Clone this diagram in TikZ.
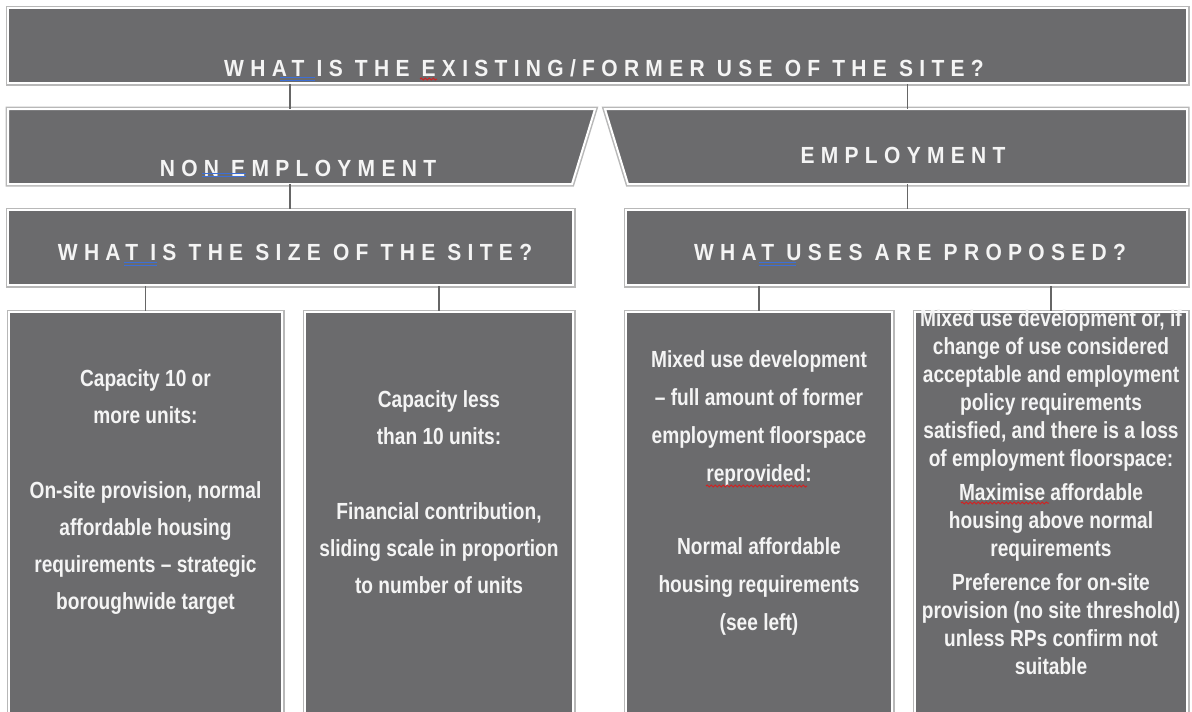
\documentclass[tikz,border=0pt]{standalone}
\usepackage{fontspec}
\setmainfont{Liberation Sans}[FakeStretch=0.82]
\newfontfamily\headfont{Liberation Sans}[FakeStretch=0.9, LetterSpace=27]
\usetikzlibrary{positioning,decorations.pathmorphing}

\definecolor{boxgray}{HTML}{6B6B6D}
\definecolor{rimgray}{HTML}{B8B8B8}
\definecolor{linkgray}{HTML}{666666}
\definecolor{inkwhite}{HTML}{F4F4F4}
\definecolor{checkblue}{HTML}{3D6FD6}
\definecolor{checkred}{HTML}{D42020}

\newlength\unitpx
\setlength\unitpx{0.75pt}

\begin{document}
\begin{tikzpicture}[x=0.75pt, y=-0.75pt]
\tikzset{box/.style = {fill=boxgray, draw=white, line width=2\unitpx, preaction={draw=rimgray, line width=5\unitpx}}}
\tikzset{cell/.style 2 args = {box, minimum width=#1\unitpx, minimum height=#2\unitpx, inner sep=0pt}}
\tikzset{area/.style 2 args = {minimum width=#1\unitpx, minimum height=#2\unitpx, inner sep=0pt, outer sep=0pt}}
\tikzset{link/.style = {draw=linkgray, line width=1.5\unitpx}}
\tikzset{head/.style = {text=inkwhite, inner sep=0pt, font=\headfont\bfseries\fontsize{17.5}{20}\selectfont}}
\tikzset{body/.style = {text=inkwhite, inner sep=0pt, align=center}}
\tikzset{grammar/.style = {checkblue, line width=1\unitpx}}
\tikzset{spelling/.style = {checkred, line width=1\unitpx, decorate, decoration={snake, amplitude=1\unitpx, segment length=4\unitpx}}}
  \useasboundingbox (0,0) rectangle (1192,711);
  \clip (0,0) rectangle (1192,711);

  % question boxes
  \node[cell={1179}{75}] (site) at (597.5,45.5) {};
  \node[area={564}{75}] (nonemp) at (290,146.5) {};
  \node[area={559}{75}] (emp) at (907.5,146.5) {};
  \path[box] (nonemp.north west) -- ([xshift=23\unitpx]nonemp.north east)
     -- (nonemp.south east) -- (nonemp.south west) -- cycle;
  \path[box] ([xshift=-23\unitpx]emp.north west) -- (emp.north east)
     -- (emp.south east) -- (emp.south west) -- cycle;
  \node[cell={565}{75}] (size) at (290.5,247.5) {};
  \node[cell={561}{75}] (uses) at (906.5,247.5) {};

  % answer boxes, cut off at the bottom
  \node[cell={273}{450}] (small) at (145.5,537) {};
  \node[cell={268}{450}] (large) at (439,537) {};
  \node[cell={266}{450}] (mixed) at (759,537) {};
  \node[cell={272}{450}] (loss) at (1051,537) {};

  % connectors
  \draw[link] (site.south -| nonemp.north) -- (nonemp.north);
  \draw[link] (site.south -| emp.north) -- (emp.north);
  \draw[link] (nonemp.south) -- (size.north -| nonemp.south);
  \draw[link] (emp.south) -- (uses.north -| emp.south);
  \draw[link] (size.south -| small.north) -- (small.north);
  \draw[link] (size.south -| large.north) -- (large.north);
  \draw[link] (uses.south -| mixed.north) -- (mixed.north);
  \draw[link] (uses.south -| loss.north) -- (loss.north);

  % headings
  \node[head] (siteQ) at (604,68) {WHAT IS THE EXISTING/FORMER USE OF THE SITE?};
  \node[head] (nonempT) at (298,168) {NON EMPLOYMENT};
  \node[head] (empT) at (903,155) {EMPLOYMENT};
  \node[head] (sizeQ) at (295,252) {WHAT IS THE SIZE OF THE SITE?};
  \node[head] (usesQ) at (910,252) {WHAT USES ARE PROPOSED?};

  % answers
  \node[body, font=\bfseries\fontsize{17.5}{27.75}\selectfont] (smallT) at (145.5,492)
    {Capacity 10 or\\ more units:\\[28.5pt] On-site provision, normal\\ affordable housing\\
     requirements -- strategic\\ boroughwide target};
  \node[body, font=\bfseries\fontsize{17.5}{27.75}\selectfont] (largeT) at (439,492)
    {Capacity less\\ than 10 units:\\[28.5pt] Financial contribution,\\
     sliding scale in proportion\\ to number of units};
  \node[body, font=\bfseries\fontsize{17.5}{28.5}\selectfont] (mixedT) at (759,493)
    {Mixed use development\\ -- full amount of former\\ employment floorspace\\
     reprovided:\\[26pt] Normal affordable\\ housing requirements\\ (see left)};
  \node[body, font=\bfseries\fontsize{17.5}{21}\selectfont] (lossT) at (1051,492)
    {Mixed use development or, if\\ change of use considered\\ acceptable and employment\\
     policy requirements\\ satisfied, and there is a loss\\ of employment floorspace:\\[4.5pt]
     Maximise affordable\\ housing above normal\\ requirements\\[4.5pt]
     Preference for on-site\\ provision (no site threshold)\\ unless RPs confirm  not\\ suitable};

  % proofing marks
  \draw[grammar] (280,77) -- (315,77) (280,80) -- (315,80);
  \draw[grammar] (202,173) -- (246,173) (202,176) -- (246,176);
  \draw[grammar] (124,262) -- (157,262) (124,265) -- (157,265);
  \draw[grammar] (759,262) -- (796,262) (759,265) -- (796,265);
  \draw[spelling] (420,79) -- (437,79);
  \draw[spelling] (706,486) -- (807,486);
  \draw[spelling] (961,503) -- (1049,503);
\end{tikzpicture}
\end{document}
